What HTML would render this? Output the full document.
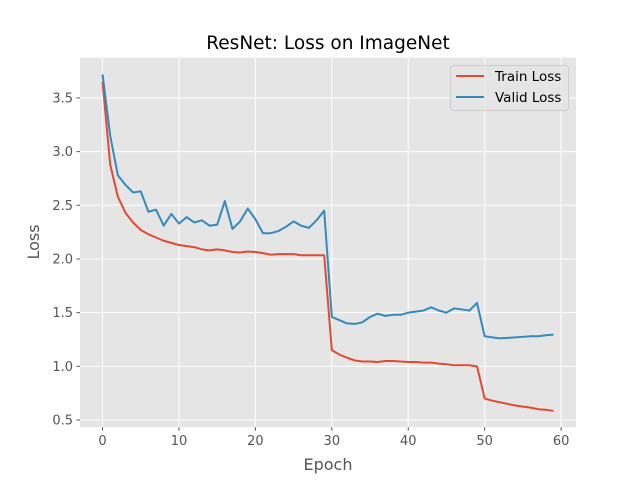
<!DOCTYPE html>
<html><head><meta charset="utf-8"><style>
body{margin:0;background:#fff;}
svg text{font-family:"DejaVu Sans","Liberation Sans",sans-serif;}
</style></head><body>
<svg id="chart" width="640" height="480">
<rect x="80" y="57.6" width="496" height="369.6" fill="#e5e5e5"/>
<g id="grid"></g><g id="ticks"></g><g id="series"></g>
<text x="328" y="49" text-anchor="middle" font-size="18.5" fill="#000">ResNet: Loss on ImageNet</text>
<text x="328" y="470" text-anchor="middle" font-size="16" fill="#555">Epoch</text>
<text transform="translate(39,242) rotate(-90)" text-anchor="middle" font-size="16" fill="#555">Loss</text>
<g>
<rect x="450.5" y="65.5" width="118" height="45" rx="3" fill="#e5e5e5" stroke="#ccc" fill-opacity="0.8"/>
<g><line x1="456" y1="76" x2="484" y2="76" stroke="#E24A33" stroke-width="2"/><text x="495" y="81" font-size="13.5" fill="#000">Train Loss</text></g>
<g><line x1="456" y1="97" x2="484" y2="97" stroke="#348ABD" stroke-width="2"/><text x="495" y="102" font-size="13.5" fill="#000">Valid Loss</text></g>
</g>
</svg>
<script>
const epochs = Array.from({length:60},(_, i)=>i);
const trainLoss = [3.65,2.88,2.58,2.43,2.34,2.27,2.23,2.20,2.17,2.15,2.13,2.12,2.11,2.09,2.08,2.09,2.08,2.065,2.06,2.07,2.065,2.055,2.04,2.045,2.045,2.045,2.035,2.035,2.035,2.035,1.15,1.11,1.08,1.055,1.045,1.045,1.04,1.05,1.05,1.045,1.04,1.04,1.035,1.035,1.025,1.02,1.01,1.01,1.01,1.0,0.70,0.68,0.665,0.65,0.635,0.625,0.615,0.60,0.595,0.585];
const validLoss = [3.72,3.15,2.78,2.69,2.62,2.63,2.44,2.46,2.31,2.42,2.33,2.39,2.34,2.36,2.31,2.32,2.54,2.28,2.35,2.47,2.37,2.24,2.24,2.26,2.30,2.35,2.31,2.29,2.36,2.45,1.46,1.43,1.40,1.395,1.41,1.46,1.49,1.47,1.48,1.48,1.50,1.51,1.52,1.55,1.52,1.50,1.54,1.53,1.52,1.59,1.28,1.27,1.26,1.265,1.27,1.275,1.28,1.28,1.29,1.295];
const xTicks = [0,10,20,30,40,50,60];
const yTicks = [0.5,1.0,1.5,2.0,2.5,3.0,3.5];
const yTickLabels = ["0.5","1.0","1.5","2.0","2.5","3.0","3.5"];
const NS="http://www.w3.org/2000/svg";
const X0=80,X1=576,Y0=57.6,Y1=427.2;
const xmin=-2.95,xmax=61.95,ymin=0.433,ymax=3.876;
const sx=v=>X0+(v-xmin)/(xmax-xmin)*(X1-X0);
const sy=v=>Y1-(v-ymin)/(ymax-ymin)*(Y1-Y0);
function mk(tag,attrs,parent){const e=document.createElementNS(NS,tag);for(const k in attrs)e.setAttribute(k,attrs[k]);parent.appendChild(e);return e;}
const grid=document.getElementById('grid'),ticks=document.getElementById('ticks'),series=document.getElementById('series');
xTicks.forEach(t=>{
  const x=sx(t);
  const g=mk('line',{x1:x,x2:x,y1:Y0,y2:Y1,stroke:'#fff','stroke-width':1},grid);
  
  
  mk('line',{x1:x,x2:x,y1:Y1,y2:Y1+3.5,stroke:'#555'},ticks);
  const tx=mk('text',{x:x,y:Y1+18,'text-anchor':'middle','font-size':13,fill:'#555'},ticks);
  tx.textContent=String(t);
  
  
});
yTicks.forEach((t,i)=>{
  const y=sy(t);
  const g=mk('line',{x1:X0,x2:X1,y1:y,y2:y,stroke:'#fff','stroke-width':1},grid);
  
  
  mk('line',{x1:X0-3.5,x2:X0,y1:y,y2:y,stroke:'#555'},ticks);
  const tx=mk('text',{x:X0-7,y:y+4.5,'text-anchor':'end','font-size':13,fill:'#555'},ticks);
  tx.textContent=yTickLabels[i];
  
  
});
function line(data,color,name){
  const p=mk('polyline',{points:data.map((v,i)=>sx(epochs[i])+','+sy(v)).join(' '),fill:'none',stroke:color,'stroke-width':2,'stroke-linejoin':'round'},series);
  
  
}
line(trainLoss,'#E24A33','train-loss-line');
line(validLoss,'#348ABD','valid-loss-line');
</script>
</body></html>
